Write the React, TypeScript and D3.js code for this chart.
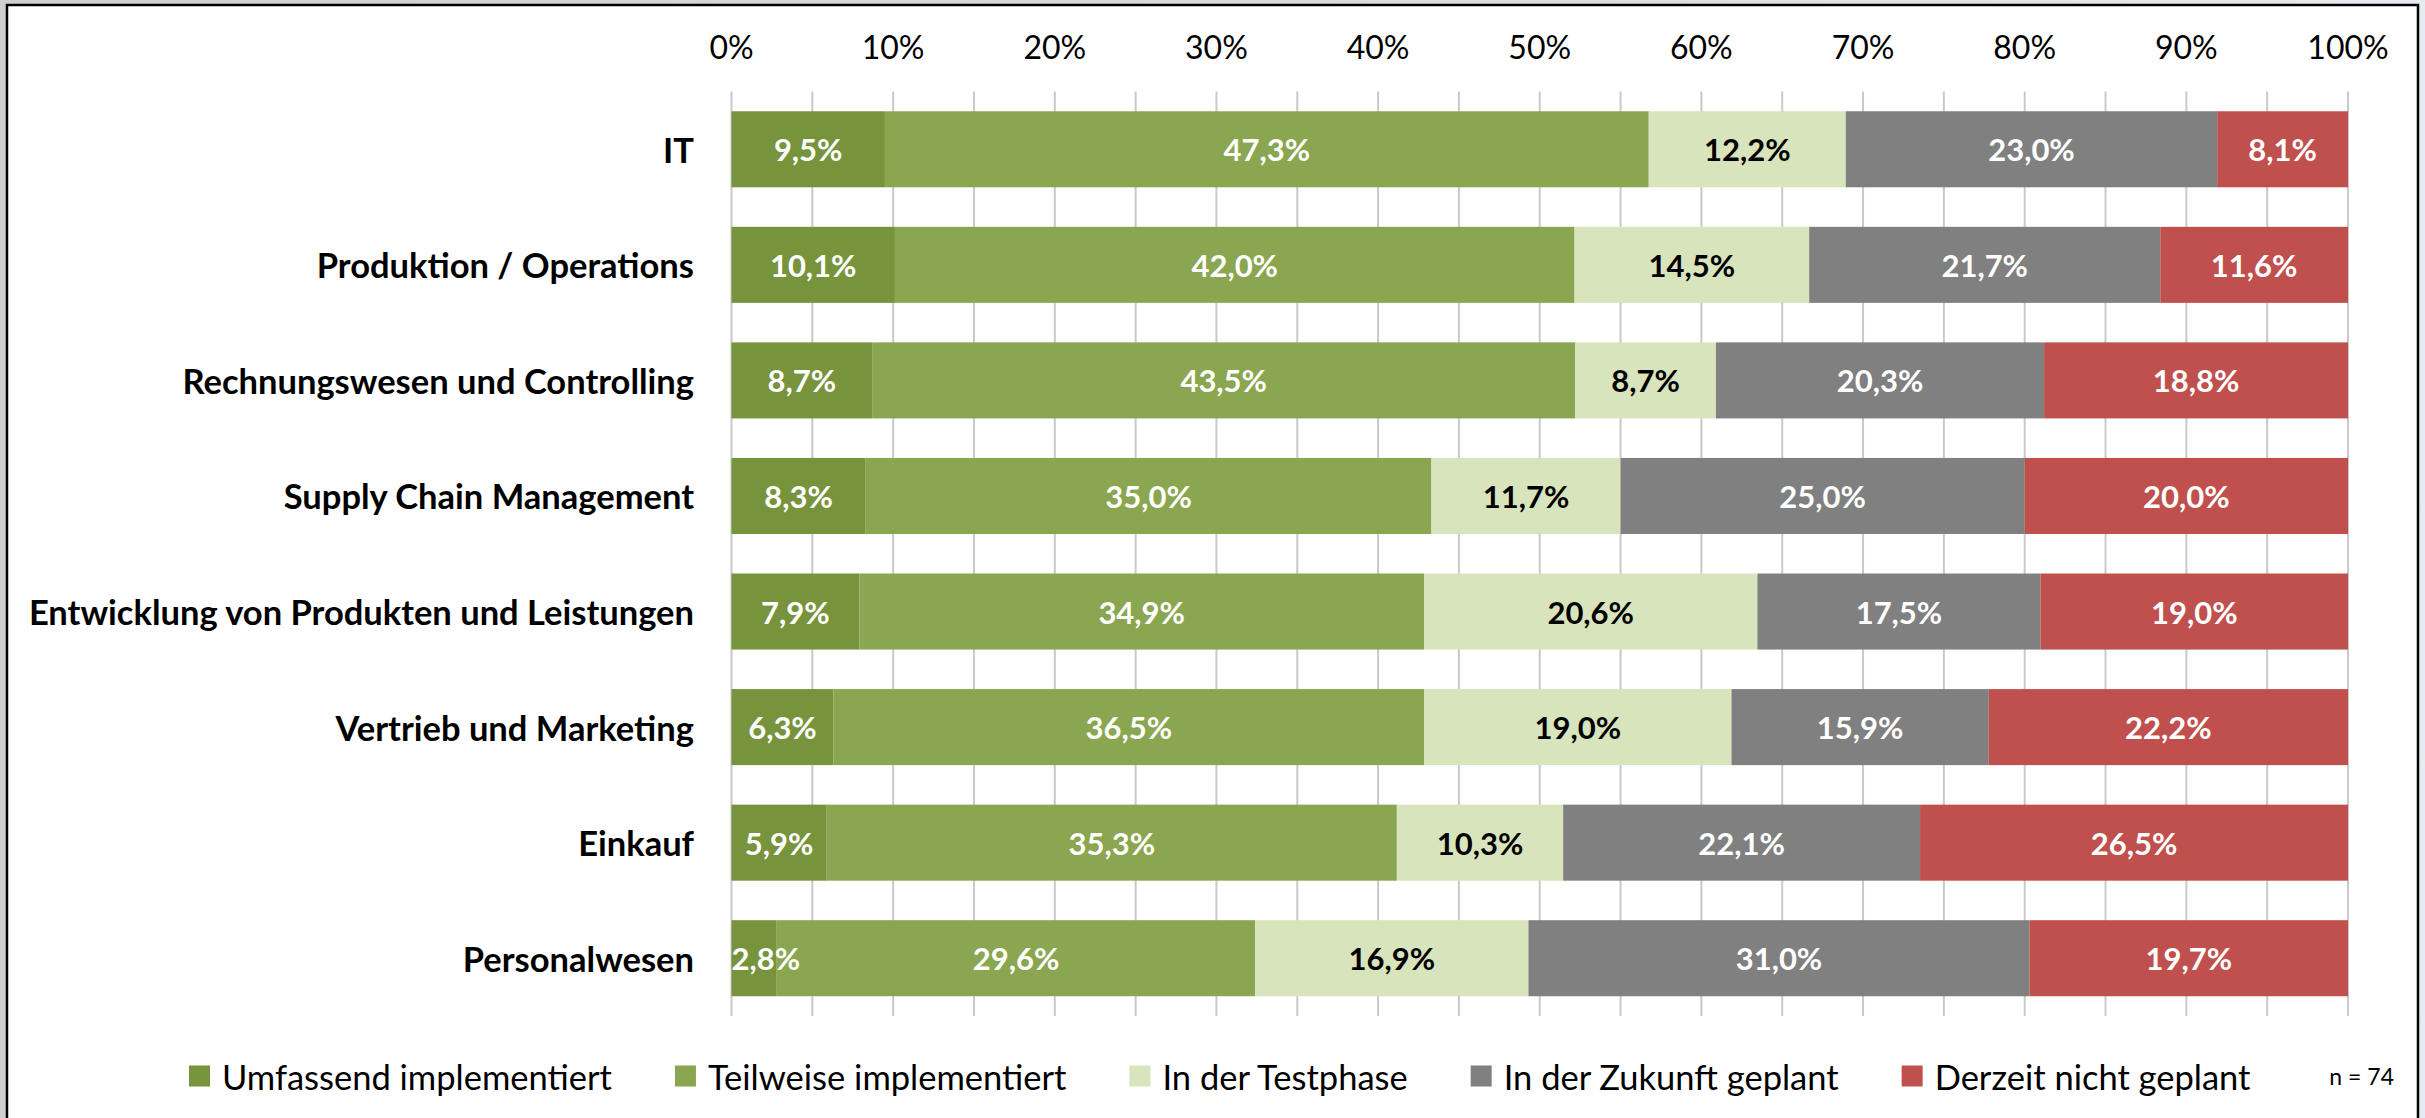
import React, { useEffect, useRef } from "react";
import * as d3 from "d3";

const categories = [
  "IT",
  "Produktion / Operations",
  "Rechnungswesen und Controlling",
  "Supply Chain Management",
  "Entwicklung von Produkten und Leistungen",
  "Vertrieb und Marketing",
  "Einkauf",
  "Personalwesen",
];

const seriesNames = [
  "Umfassend implementiert",
  "Teilweise implementiert",
  "In der Testphase",
  "In der Zukunft geplant",
  "Derzeit nicht geplant",
];

const umfassend = [9.5, 10.1, 8.7, 8.3, 7.9, 6.3, 5.9, 2.8];
const teilweise = [47.3, 42.0, 43.5, 35.0, 34.9, 36.5, 35.3, 29.6];
const testphase = [12.2, 14.5, 8.7, 11.7, 20.6, 19.0, 10.3, 16.9];
const zukunft = [23.0, 21.7, 20.3, 25.0, 17.5, 15.9, 22.1, 31.0];
const nichtGeplant = [8.1, 11.6, 18.8, 20.0, 19.0, 22.2, 26.5, 19.7];

const seriesValues = [umfassend, teilweise, testphase, zukunft, nichtGeplant];

const tickValues = [0, 0.1, 0.2, 0.3, 0.4, 0.5, 0.6, 0.7, 0.8, 0.9, 1.0];
const gridValues = d3.range(0, 21).map((i) => i * 0.05);

const colors = ["#77933C", "#8BA650", "#D8E4BC", "#808080", "#C0504D"];
const labelColors = ["#ffffff", "#ffffff", "#000000", "#ffffff", "#ffffff"];
const noteText = "n = 74";

const W = 2425;
const H = 1118;
const FONT = "Lato, 'Open Sans', sans-serif";

export default function App() {
  const ref = useRef<SVGSVGElement | null>(null);

  useEffect(() => {
    const svg = d3.select(ref.current);
    svg.selectAll("*").remove();

    const defs = svg.append("defs");
    const grad = defs
      .append("linearGradient")
      .attr("id", "bg")
      .attr("x1", "0")
      .attr("x2", "1")
      .attr("y1", "0")
      .attr("y2", "0");
    grad.append("stop").attr("offset", "0").attr("stop-color", "#cfcfcf");
    grad.append("stop").attr("offset", "0.6").attr("stop-color", "#dcdcdc");
    grad.append("stop").attr("offset", "1").attr("stop-color", "#e6ebf1");

    svg.append("rect").attr("width", W).attr("height", H).attr("fill", "url(#bg)");
    svg
      .append("rect")
      .attr("x", 7)
      .attr("y", 5)
      .attr("width", 2411)
      .attr("height", H + 10)
      .attr("fill", "#ffffff")
      .attr("stroke", "#000000")
      .attr("stroke-width", 2.5);

    const rows = categories.map((c, i) => {
      const r: any = { cat: c };
      seriesNames.forEach((s, j) => (r[s] = seriesValues[j][i]));
      return r;
    });

    const stacked = d3
      .stack<any>()
      .keys(seriesNames)
      .offset(d3.stackOffsetExpand)(rows);

    const x = d3.scaleLinear().domain([0, 1]).range([731.5, 2348]);
    const y = d3
      .scaleBand<string>()
      .domain(categories)
      .range([91.5, 1016])
      .paddingInner(0.342)
      .paddingOuter(0.171);

    // gridlines
    svg
      .append("g")
      .selectAll("line")
      .data(gridValues)
      .join("line")
      .attr("x1", (d) => x(d))
      .attr("x2", (d) => x(d))
      .attr("y1", 91.5)
      .attr("y2", 1016)
      .attr("stroke", "#c9c9c9")
      .attr("stroke-width", 2);

    // tick labels
    svg
      .append("g")
      .selectAll("text")
      .data(tickValues)
      .join("text")
      .attr("x", (d) => x(d))
      .attr("y", 46)
      .attr("text-anchor", "middle")
      .attr("dominant-baseline", "central")
      .attr("font-family", FONT)
      .attr("font-size", 32)
      .attr("fill", "#000")
      .text((d) => d3.format(".0%")(d));

    // bars
    const layers = svg
      .append("g")
      .selectAll("g")
      .data(stacked)
      .join("g")
      .attr("fill", (_d, i) => colors[i]);

    layers
      .selectAll("rect")
      .data((d) => d.map((p) => ({ p, key: d.key })))
      .join("rect")
      .attr("x", (d) => x(d.p[0]))
      .attr("width", (d) => x(d.p[1]) - x(d.p[0]))
      .attr("y", (d) => y(d.p.data.cat)!)
      .attr("height", y.bandwidth());

    // data labels
    stacked.forEach((layer, si) => {
      const g = svg.append("g");
      layer.forEach((p) => {
        const val = seriesValues[si][categories.indexOf(p.data.cat)];
        const txt = d3.format(".1f")(val).replace(".", ",") + "%";
        const cx = (x(p[0]) + x(p[1])) / 2;
        const t = g
          .append("text")
          .attr("x", cx)
          .attr("y", y(p.data.cat)! + y.bandwidth() / 2)
          .attr("text-anchor", "middle")
          .attr("dominant-baseline", "central")
          .attr("font-family", FONT)
          .attr("font-weight", 700)
          .attr("font-size", 31)
          .attr("fill", labelColors[si])
          .text(txt);
        const node = t.node() as SVGTextElement;
        const w = node.getComputedTextLength();
        if (cx - w / 2 < x.range()[0]) {
          t.attr("text-anchor", "start").attr("x", x.range()[0]);
        }
      });
    });

    // category labels
    svg
      .append("g")
      .selectAll("text")
      .data(categories)
      .join("text")
      .attr("x", 694)
      .attr("y", (d) => y(d)! + y.bandwidth() / 2)
      .attr("text-anchor", "end")
      .attr("dominant-baseline", "central")
      .attr("font-family", FONT)
      .attr("font-weight", 700)
      .attr("font-size", 34.5)
      .attr("fill", "#000")
      .text((d) => d);

    // legend
    const lg = svg.append("g");
    let lx = 189;
    const ly = 1076;
    seriesNames.forEach((s, i) => {
      lg.append("rect")
        .attr("x", lx)
        .attr("y", ly - 10.5)
        .attr("width", 21)
        .attr("height", 21)
        .attr("fill", colors[i]);
      const t = lg
        .append("text")
        .attr("x", lx + 33)
        .attr("y", ly)
        .attr("dominant-baseline", "central")
        .attr("font-family", FONT)
        .attr("font-size", 34.5)
        .attr("fill", "#000")
        .text(s);
      const w = (t.node() as SVGTextElement).getComputedTextLength();
      lx = lx + 33 + w + 63;
    });

    svg
      .append("text")
      .attr("x", 2394)
      .attr("y", ly)
      .attr("text-anchor", "end")
      .attr("dominant-baseline", "central")
      .attr("font-family", FONT)
      .attr("font-size", 23)
      .attr("fill", "#000")
      .text(noteText);
  }, []);

  return (
    <svg
      ref={ref}
      width={W}
      height={H}
      style={{ position: "absolute", left: 0, top: 0, display: "block" }}
    />
  );
}
